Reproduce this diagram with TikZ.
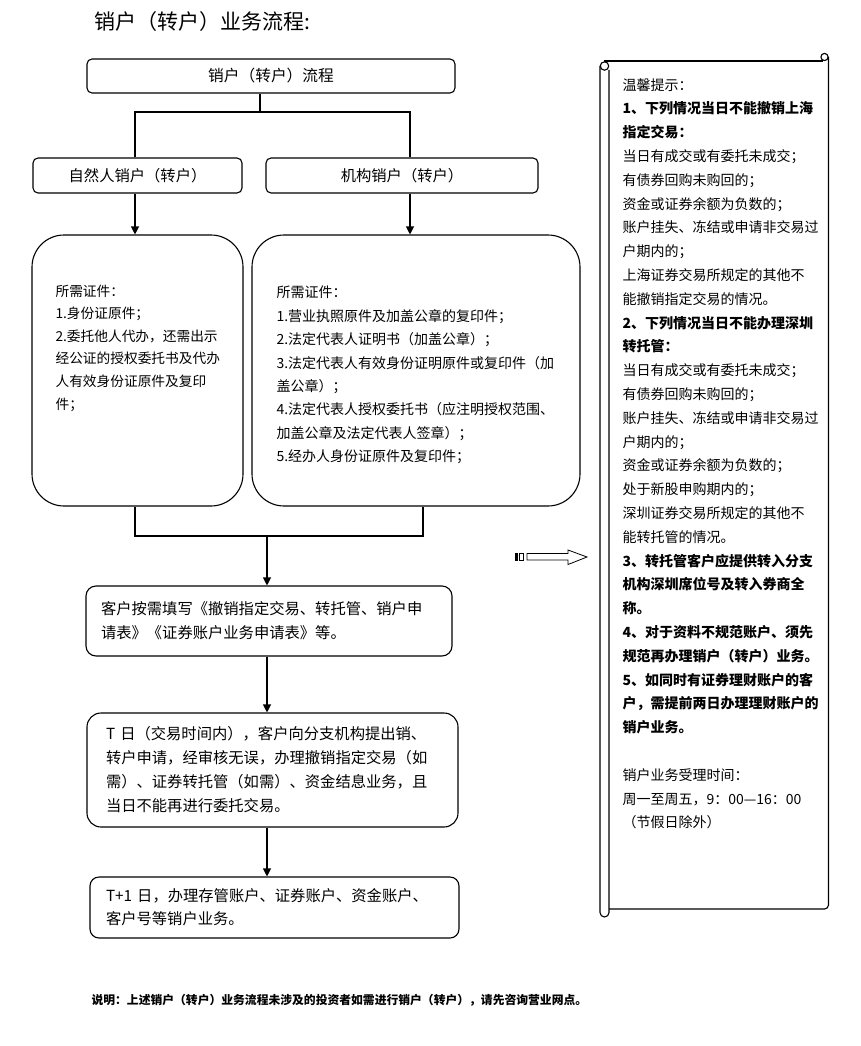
\documentclass[tikz,border=0pt]{standalone}
\usepackage{fontspec}
\setmainfont{Noto Sans CJK SC}
\usetikzlibrary{arrows.meta,calc}
\newcommand\fsz[2]{\fontsize{#1}{#2}\selectfont}
\begin{document}
\begin{tikzpicture}[x=1pt,y=-1pt,line width=1.1pt,
  box/.style={draw,rounded corners=#1,inner sep=0pt,align=center},
  box/.default=5pt,
  hdr/.style={font=\fsz{15.3}{18}},
  flow/.style={draw,rounded corners=#1,inner ysep=0pt,align=left,font=\fsz{15.3}{24}},
  flow/.default=10pt,
  doc/.style={anchor=north west,inner sep=0pt,align=left},
  arr/.style={-{Triangle[length=8pt,width=8pt]}},
  scroll/.style={line width=1.1pt}]
\useasboundingbox (0,0) rectangle (861,1046);

% title
\node[anchor=west,inner sep=0pt,font=\fsz{21}{24}] (title) at (94,22) {销户（转户）业务流程:};

% top boxes
\node[box,minimum width=368pt,minimum height=34pt,font=\fsz{15.7}{18}] (top) at (271,76) {销户（转户）流程};
\node[box,hdr,minimum width=209pt,minimum height=35pt] (nat) at (137.5,175.5) {自然人销户（转户）};
\node[box,hdr,minimum width=272pt,minimum height=35pt] (org) at (402,175.5) {机构销户（转户）};

\coordinate (jT) at (260,112);
\coordinate (jL) at (135,112);
\coordinate (jR) at (410,112);
\draw (top.south -| jT) -- (jT);
\draw (nat.north -| jL) -- (jL) -- (jR) -- (org.north -| jR);

% document boxes
\node[box=32pt,minimum width=211pt,minimum height=271pt] (natdoc) at (137.5,370.5) {};
\node[box=32pt,minimum width=328pt,minimum height=271pt] (orgdoc) at (416,370.5) {};
\draw[arr] (nat.south -| jL) -- (natdoc.north -| jL);
\draw[arr] (org.south -| jR) -- (orgdoc.north -| jR);

\node[doc,font=\fsz{13.7}{22.6}] (natdoctext) at (55,284) {所需证件：\\1.身份证原件；\\2.委托他人代办，还需出示\\经公证的授权委托书及代办\\人有效身份证原件及复印\\件；};
\node[doc,font=\fsz{14}{23.4}] (orgdoctext) at (276,285.7) {所需证件：\\1.营业执照原件及加盖公章的复印件；\\2.法定代表人证明书（加盖公章）；\\3.法定代表人有效身份证明原件或复印件（加\\盖公章）；\\4.法定代表人授权委托书（应注明授权范围、\\加盖公章及法定代表人签章）；\\5.经办人身份证原件及复印件；};

% merge
\coordinate (bL) at (135,536);
\coordinate (bR) at (423,536);
\coordinate (bM) at (267,536);
\draw (natdoc.south -| bL) -- (bL) -- (bR) -- (orgdoc.south -| bR);

% flow boxes
\node[flow,inner xsep=15pt,text width=336pt,minimum height=70pt] (fill) at (269,621) {客户按需填写《撤销指定交易、转托管、销户申\\请表》《证券账户业务申请表》等。};
\node[flow=14pt,inner xsep=19pt,text width=333pt,minimum height=114pt] (tday) at (272.5,770) {T 日（交易时间内），客户向分支机构提出销、\\转户申请，经审核无误，办理撤销指定交易（如\\需）、证券转托管（如需）、资金结息业务，且\\当日不能再进行委托交易。};
\node[flow=9pt,inner xsep=16pt,text width=337pt,minimum height=61pt,font=\fsz{15.3}{23}] (tone) at (274.5,907.5) {T+1 日，办理存管账户、证券账户、资金账户、\\客户号等销户业务。};

\draw[arr] (bM) -- (fill.north -| bM);
\draw[arr] (fill.south -| bM) -- (tday.north -| bM);
\draw[arr] (tday.south -| bM) -- (tone.north -| bM);

% striped block arrow
\draw[line width=0.8pt,fill=black] (515,553.5) rectangle (517.5,560);
\draw[line width=0.8pt] (519.5,553.5) rectangle (523.5,560);
\draw[line width=0.8pt,fill=white] (527,553.5) -- (568,553.5) -- (568,550) -- (587,557) -- (568,564.5) -- (568,560) -- (527,560) -- cycle;

% scroll
\draw[scroll] (604,61) -- (823,61);
\draw[scroll] (824.5,57) circle (3.6);
\draw[scroll,rounded corners=4pt] (828.5,57) -- (828.5,909) -- (609,909);
\draw[scroll,rounded corners=4.5pt] (600,66) -- (600,917) -- (609,917) -- (609,70);
\draw[scroll] (604.5,66) circle (4.2);

\node[doc,font=\fsz{14}{23.8}] (tips) at (622,77.7) {温馨提示：\\
\textbf{1、下列情况当日不能撤销上海}\\
\textbf{指定交易：}\\
当日有成交或有委托未成交；\\
有债券回购未购回的；\\
资金或证券余额为负数的；\\
账户挂失、冻结或申请非交易过\\
户期内的；\\
上海证券交易所规定的其他不\\
能撤销指定交易的情况。\\
\textbf{2、下列情况当日不能办理深圳}\\
\textbf{转托管：}\\
当日有成交或有委托未成交；\\
有债券回购未购回的；\\
账户挂失、冻结或申请非交易过\\
户期内的；\\
资金或证券余额为负数的；\\
处于新股申购期内的；\\
深圳证券交易所规定的其他不\\
能转托管的情况。\\
\textbf{3、转托管客户应提供转入分支}\\
\textbf{机构深圳席位号及转入券商全}\\
\textbf{称。}\\
\textbf{4、对于资料不规范账户、须先}\\
\textbf{规范再办理销户（转户）业务。}\\
\textbf{5、如同时有证券理财账户的客}\\
\textbf{户，需提前两日办理理财账户的}\\
\textbf{销户业务。}\\[23.8pt]
销户业务受理时间：\\
周一至周五，9：00—16：00\\
（节假日除外）};

% note
\node[anchor=west,inner sep=0pt,font=\fsz{11.8}{14}\bfseries] (note) at (91,1000) {说明：上述销户（转户）业务流程未涉及的投资者如需进行销户（转户），请先咨询营业网点。};
\end{tikzpicture}
\end{document}
